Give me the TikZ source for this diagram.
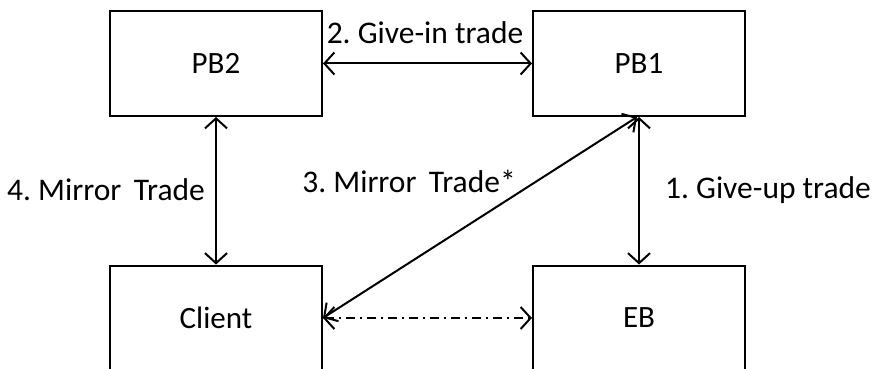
\documentclass[tikz,border=0pt]{standalone}
\usepackage{fontspec}
\setmainfont{Carlito}
\usetikzlibrary{arrows.meta}
\frenchspacing
\begin{document}
\begin{tikzpicture}[x=1pt,y=-1pt,
  box/.style={draw,line width=2pt,minimum width=212pt,minimum height=105pt,inner sep=0pt,font=\fontsize{31}{36}\selectfont},
  lbl/.style={inner sep=0pt,font=\fontsize{31.5}{36}\selectfont},
  conn/.style={draw,line width=2pt,{Straight Barb[length=10pt,width=22pt]}-{Straight Barb[length=10pt,width=22pt]}}]
\useasboundingbox (0,0) rectangle (872,369);
\node[box] (pb2) at (216,63.5) {PB2};
\node[box] (pb1) at (639,63.5) {PB1};
\node[box] (client) at (216,318) {Client};
\node[box] (eb) at (639,318) {EB};
\draw[conn] (pb2.east) -- (pb1.west);
\draw[conn] (pb2.south) -- (client.north);
\draw[conn] (pb1.south) -- (eb.north);
\draw[conn] ([xshift=-2pt]pb1.south) -- (client.east);
\draw[conn,dash pattern=on 9pt off 5pt on 2pt off 5pt] (client.east) -- (eb.west);
\node[lbl] (l2) at (425,33) {2. Give-in trade};
\node[lbl] (l4) at (106,190) {4. Mirror\, Trade};
\node[lbl] (l3) at (409,181) {3. Mirror\, Trade*};
\node[lbl] (l1) at (768,190) {1. Give-up trade};
\end{tikzpicture}
\end{document}
